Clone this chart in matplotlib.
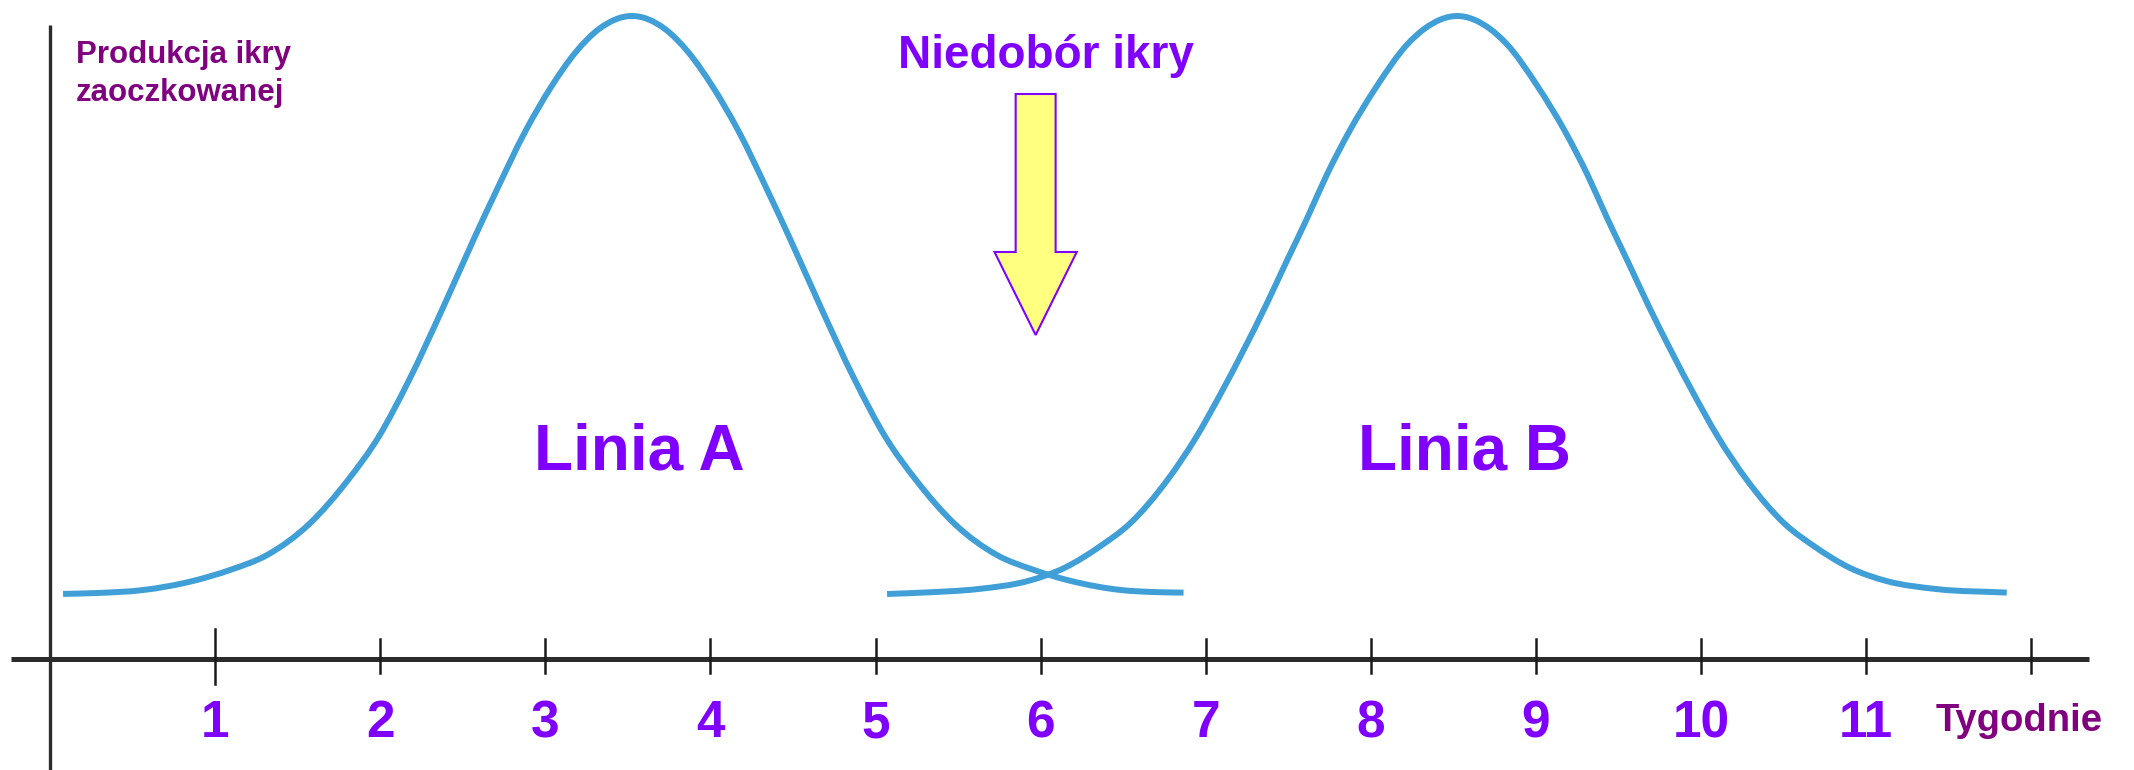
#!/usr/bin/env python3
import matplotlib
matplotlib.use("Agg")
import matplotlib.pyplot as plt
from matplotlib.patches import FancyArrow, PathPatch
from matplotlib.path import Path

plt.rcParams['font.family'] = ['Liberation Sans', 'DejaVu Sans']

# egg production curves (weeks, relative height),
# read level by level on both flanks of each bell
weeks_a = [0.079, 0.287, 0.565, 0.865, 1.090, 1.315, 1.570, 1.805, 1.990, 2.175,
           2.385, 2.570, 2.700, 2.880, 3.035, 3.185, 3.325, 3.525, 3.725, 3.865,
           4.015, 4.170, 4.350, 4.480, 4.665, 4.875, 5.060, 5.245, 5.480, 5.735,
           5.960, 6.185, 6.485, 6.692, 6.866]
prod_a = [0.651, 0.660, 0.690, 0.780, 0.890, 1.040, 1.350, 1.790, 2.220, 2.790,
          3.530, 4.210, 4.670, 5.280, 5.720, 6.070, 6.300, 6.430, 6.300, 6.070,
          5.720, 5.280, 4.670, 4.210, 3.530, 2.790, 2.220, 1.790, 1.350, 1.040,
          0.890, 0.780, 0.690, 0.669, 0.664]

weeks_b = [5.070, 5.300, 5.623, 5.923, 6.143, 6.363, 6.538, 6.768, 6.943, 7.093,
           7.233, 7.363, 7.488, 7.615, 7.733, 7.871, 8.033, 8.223, 8.323, 8.523,
           8.723, 8.823, 9.013, 9.175, 9.313, 9.431, 9.558, 9.683, 9.813, 9.953,
           10.103, 10.278, 10.508, 10.683, 10.903, 11.123, 11.423, 11.852]
prod_b = [0.650, 0.665, 0.700, 0.780, 0.910, 1.130, 1.350, 1.790, 2.220, 2.660,
          3.100, 3.530, 3.970, 4.410, 4.840, 5.280, 5.720, 6.150, 6.300, 6.430,
          6.300, 6.150, 5.720, 5.280, 4.840, 4.410, 3.970, 3.530, 3.100, 2.660,
          2.220, 1.790, 1.350, 1.130, 0.910, 0.780, 0.700, 0.664]

tick_weeks = list(range(1, 13))
tick_labels = [str(k) for k in range(1, 12)]
gap_week = 6

CURVE = "#3f9fd6"
VIOLET = "#8000ff"
PLUM = "#800080"
AXIS = "#2b2b2b"


def smooth_path(xs, ys):
    # cubic Hermite through the read points (slopes from neighbours),
    # drawn as Bezier segments so the line is not jagged
    n = len(xs)
    slopes = []
    for i in range(n):
        if i == 0:
            slopes.append((ys[1] - ys[0]) / (xs[1] - xs[0]))
        elif i == n - 1:
            slopes.append((ys[-1] - ys[-2]) / (xs[-1] - xs[-2]))
        else:
            d1 = xs[i] - xs[i - 1]
            d2 = xs[i + 1] - xs[i]
            s1 = (ys[i] - ys[i - 1]) / d1
            s2 = (ys[i + 1] - ys[i]) / d2
            slopes.append((s1 * d2 + s2 * d1) / (d1 + d2))
    verts = [(xs[0], ys[0])]
    codes = [Path.MOVETO]
    for i in range(n - 1):
        dx = (xs[i + 1] - xs[i]) / 3
        verts += [(xs[i] + dx, ys[i] + slopes[i] * dx),
                  (xs[i + 1] - dx, ys[i + 1] - slopes[i + 1] * dx),
                  (xs[i + 1], ys[i + 1])]
        codes += [Path.CURVE4] * 3
    return Path(verts, codes)


def main(out_png="out.png"):
    fig = plt.figure(figsize=(21.34, 7.70), dpi=100)
    ax = fig.add_axes([0, 0, 1, 1])
    ax.set_xlim(-50 / 165.1, 2084 / 165.1)
    ax.set_ylim(-1.11, 6.59)
    ax.axis("off")

    # axes drawn by hand (they cross like in a textbook sketch)
    ax.plot([-0.236, 12.35], [0, 0], color=AXIS, lw=3.6, solid_capstyle="butt", zorder=2)
    ax.plot([0, 0], [-1.2, 6.34], color=AXIS, lw=2.4, solid_capstyle="butt", zorder=2)
    for k in tick_weeks:
        top, bot = (0.30, -0.25) if k == 1 else (0.20, -0.14)
        ax.plot([k, k], [bot, top], color="#1a1a1a", lw=1.8, zorder=2)
    for k, lab in zip(tick_weeks, tick_labels):
        ax.text(k, -0.78, lab, ha="center", va="baseline", fontsize=37,
                fontweight="bold", color=VIOLET)
    ax.text(11.42, -0.72, "Tygodnie", ha="left", va="baseline", fontsize=27.5,
            fontweight="bold", color=PLUM)

    ax.text(0.157, 5.96, "Produkcja ikry", ha="left", va="baseline", fontsize=22.5,
            fontweight="bold", color=PLUM)
    ax.text(0.157, 5.58, "zaoczkowanej", ha="left", va="baseline", fontsize=22.5,
            fontweight="bold", color=PLUM)

    # the two curves
    for xs, ys in ((weeks_a, prod_a), (weeks_b, prod_b)):
        ax.add_patch(PathPatch(smooth_path(xs, ys), fill=False, edgecolor=CURVE,
                               lw=4.3, capstyle="butt", joinstyle="round", zorder=3))

    ax.text(3.57, 1.90, "Linia A", ha="center", va="baseline", fontsize=46,
            fontweight="bold", color=VIOLET)
    ax.text(8.57, 1.90, "Linia B", ha="center", va="baseline", fontsize=46,
            fontweight="bold", color=VIOLET)

    # shortage marker
    ax.text(gap_week + 0.03, 5.91, "Niedobór ikry", ha="center", va="baseline",
            fontsize=33, fontweight="bold", color=VIOLET)
    arrow = FancyArrow(gap_week - 0.03, 5.65, 0, -2.41, width=0.242, head_width=0.498,
                       head_length=0.83, length_includes_head=True,
                       facecolor="#ffff80", edgecolor=VIOLET, lw=1.5, zorder=4)
    ax.add_patch(arrow)

    fig.savefig(out_png, dpi=100)
    plt.close(fig)


if __name__ == "__main__":
    main()
